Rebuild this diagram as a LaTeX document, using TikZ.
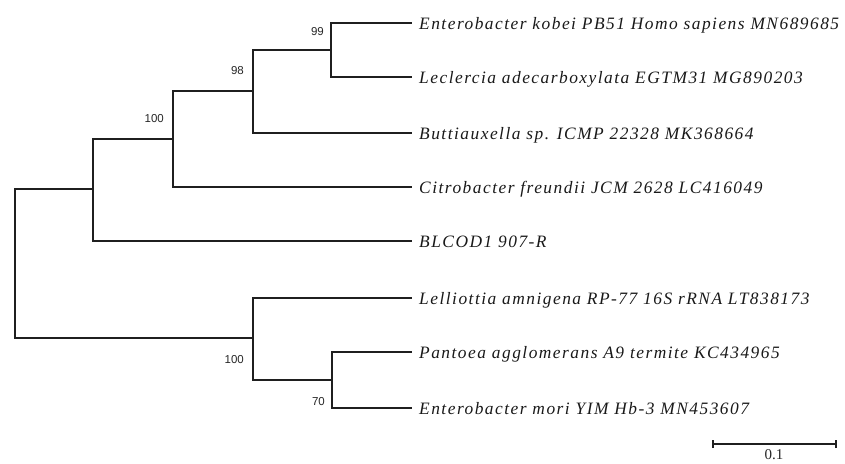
\documentclass[tikz,border=0pt]{standalone}
\usepackage{fontspec}
\setmainfont{Liberation Serif}
\setsansfont{Liberation Sans}
\newfontfamily\taxonfont[LetterSpace=8.5]{Liberation Serif}

\begin{document}
\begin{tikzpicture}[x=1pt,y=-1pt,
  branch/.style={line width=1.6pt, draw=black!88},
  taxon/.style={anchor=base west, inner sep=0pt,
    font=\taxonfont\fontsize{17.4}{21}\selectfont\itshape, text=black!90},
  support/.style={anchor=east, inner sep=0pt,
    font=\sffamily\fontsize{11.5}{13}\selectfont, text=black!85},
  scalelabel/.style={inner sep=0pt, font=\rmfamily\fontsize{15}{17}\selectfont, text=black!85}]

\useasboundingbox (0,0) rectangle (845,463);

% tips of the terminal branches
\coordinate (t1) at (412,23);
\coordinate (t2) at (412,77);
\coordinate (t3) at (412,133);
\coordinate (t4) at (412,187);
\coordinate (t5) at (412,241);
\coordinate (t6) at (412,298);
\coordinate (t7) at (412,352);
\coordinate (t8) at (412,408);

% internal nodes
\coordinate (n99)  at (331,50);
\coordinate (n98)  at (253,91);
\coordinate (n100) at (173,139);
\coordinate (nA)   at (93,189);
\coordinate (n70)  at (332,380);
\coordinate (nB)   at (253,338);
\coordinate (root) at (15,263);

% taxon names
\node[taxon] (l1) at ([shift={(7,6)}]t1) {Enterobacter kobei PB51 Homo sapiens MN689685};
\node[taxon] (l2) at ([shift={(7,6)}]t2) {Leclercia adecarboxylata EGTM31 MG890203};
\node[taxon] (l3) at ([shift={(7,6)}]t3) {Buttiauxella sp. ICMP 22328 MK368664};
\node[taxon] (l4) at ([shift={(7,6)}]t4) {Citrobacter freundii JCM 2628 LC416049};
\node[taxon] (l5) at ([shift={(7,6)}]t5) {BLCOD1 907-R};
\node[taxon] (l6) at ([shift={(7,6)}]t6) {Lelliottia amnigena RP-77 16S rRNA LT838173};
\node[taxon] (l7) at ([shift={(7,6)}]t7) {Pantoea agglomerans A9 termite KC434965};
\node[taxon] (l8) at ([shift={(7,6)}]t8) {Enterobacter mori YIM Hb-3 MN453607};

% branches
\draw[branch] (n99) |- (t1);
\draw[branch] (n99) |- (t2);
\draw[branch] (n98) |- (n99);
\draw[branch] (n98) |- (t3);
\draw[branch] (n100) |- (n98);
\draw[branch] (n100) |- (t4);
\draw[branch] (nA) |- (n100);
\draw[branch] (nA) |- (t5);
\draw[branch] (root) |- (nA);
\draw[branch] (root) |- (nB);
\draw[branch] (nB) |- (t6);
\draw[branch] (nB) |- (n70);
\draw[branch] (n70) |- (t7);
\draw[branch] (n70) |- (t8);

% bootstrap support values
\node[support] (s99)  at ([shift={(-7,-18)}]n99)  {99};
\node[support] (s98)  at ([shift={(-9,-20)}]n98)  {98};
\node[support] (s100) at ([shift={(-9,-20)}]n100) {100};
\node[support] (s100b) at ([shift={(-9,22)}]nB)   {100};
\node[support] (s70)  at ([shift={(-7,22)}]n70)   {70};

% scale bar
\coordinate (sb1) at (713,444);
\coordinate (sb2) at (836,444);
\draw[branch] (sb1) -- (sb2);
\draw[branch] ([yshift=-4]sb1) -- ([yshift=4]sb1);
\draw[branch] ([yshift=-4]sb2) -- ([yshift=4]sb2);
\node[scalelabel] (sbl) at (774,455) {0.1};
\end{tikzpicture}
\end{document}
